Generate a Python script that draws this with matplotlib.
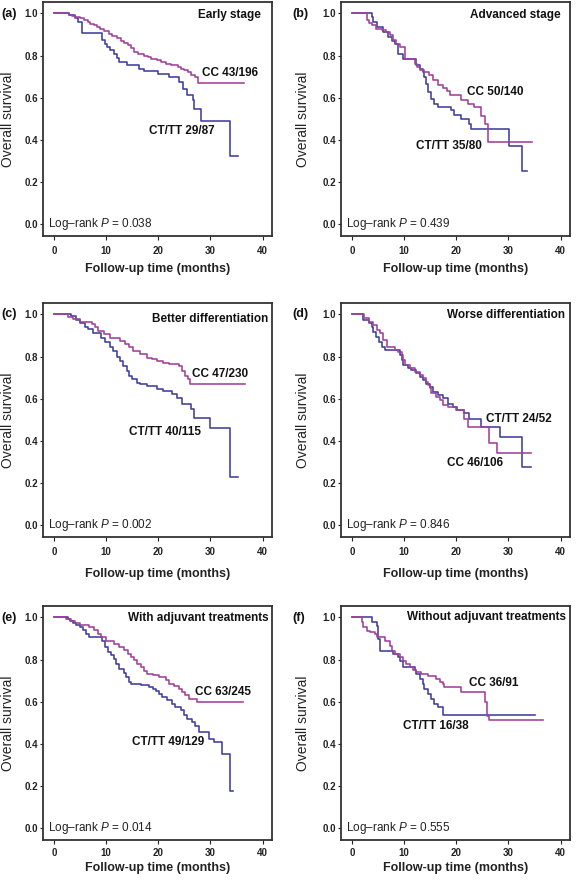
import matplotlib
matplotlib.use("Agg")
import matplotlib.pyplot as plt

plt.rcParams['font.family'] = ['Liberation Sans', 'DejaVu Sans']
plt.rcParams['mathtext.fontset'] = 'custom'
plt.rcParams['mathtext.rm'] = 'Liberation Sans'
plt.rcParams['mathtext.it'] = 'Liberation Sans:italic'

CC_COLOR = '#a0409a'
CT_COLOR = '#3d3d9c'

# (a) Early stage
a_cc_t = [0, 2.8, 3.5, 4.1, 5.0, 5.7, 6.5, 7.0, 7.6, 8.2, 8.9, 9.6, 10.5, 11.2, 12.1, 12.8, 13.4, 14.1,
          14.8, 15.3, 16.2, 17.3, 18.0, 18.6, 19.8, 20.6, 21.4, 22.4, 23.7, 24.4, 25.0, 25.7, 26.3, 27.0, 27.6]
a_cc_s = [1.0, 0.993, 0.987, 0.982, 0.976, 0.968, 0.960, 0.952, 0.944, 0.936, 0.928, 0.915, 0.904, 0.893,
          0.881, 0.870, 0.860, 0.849, 0.835, 0.817, 0.809, 0.800, 0.792, 0.785, 0.777, 0.770, 0.762, 0.754,
          0.746, 0.738, 0.730, 0.722, 0.710, 0.698, 0.670]
a_cc_end = 36.5
a_ct_t = [0, 2.8, 4.1, 4.7, 5.35, 9.2, 9.7, 10.2, 10.8, 11.5, 12.0, 12.4, 14.0, 16.3, 17.3, 19.9, 22.1,
          24.0, 24.7, 25.6, 26.6, 26.9, 28.2, 33.7]
a_ct_s = [1.0, 0.99, 0.98, 0.96, 0.905, 0.873, 0.857, 0.841, 0.825, 0.809, 0.79, 0.77, 0.754, 0.738,
          0.725, 0.714, 0.698, 0.674, 0.643, 0.611, 0.587, 0.547, 0.49, 0.325]
a_ct_end = 35.2

# (b) Advanced stage
b_cc_t = [0, 2.85, 3.2, 3.8, 4.6, 5.7, 6.6, 7.3, 7.9, 8.5, 9.2, 10.1, 12.0, 12.4, 13.0, 13.9, 14.8, 15.5,
          16.4, 17.4, 18.2, 18.7, 20.9, 22.2, 23.4, 24.7, 25.6, 26.0]
b_cc_s = [1.0, 0.968, 0.955, 0.944, 0.928, 0.92, 0.912, 0.897, 0.873, 0.855, 0.841, 0.785, 0.762, 0.746,
          0.73, 0.72, 0.71, 0.686, 0.662, 0.646, 0.63, 0.614, 0.587, 0.57, 0.555, 0.515, 0.476, 0.389]
b_cc_end = 34.5
b_ct_t = [0, 3.8, 4.1, 4.75, 6.0, 7.0, 7.6, 8.2, 8.9, 9.8, 12.3, 13.0, 13.6, 13.9, 14.2, 14.6, 15.2,
          15.8, 16.5, 19.0, 19.6, 20.9, 22.4, 22.8, 30.1, 32.6]
b_ct_s = [1.0, 0.984, 0.96, 0.936, 0.912, 0.889, 0.87, 0.857, 0.809, 0.785, 0.754, 0.738, 0.72, 0.698,
          0.667, 0.627, 0.595, 0.571, 0.555, 0.54, 0.516, 0.5, 0.476, 0.452, 0.373, 0.254]
b_ct_end = 33.5

# (c) Better differentiation
c_cc_t = [0, 2.7, 3.7, 5.0, 7.2, 7.85, 8.5, 9.5, 10.75, 12.7, 13.6, 14.3, 15.2, 16.5, 17.8, 18.8, 19.7,
          21.0, 22.0, 23.9, 24.6, 25.2, 25.7, 26.05]
c_cc_s = [1.0, 0.988, 0.977, 0.966, 0.954, 0.938, 0.922, 0.906, 0.89, 0.875, 0.859, 0.843, 0.827, 0.811,
          0.795, 0.787, 0.779, 0.771, 0.765, 0.756, 0.732, 0.708, 0.692, 0.672]
c_cc_end = 36.6
c_ct_t = [0, 3.35, 4.3, 5.0, 5.9, 6.6, 7.5, 9.1, 9.8, 10.75, 11.4, 12.0, 12.7, 13.3, 14.0, 14.3, 14.9,
          15.9, 16.5, 17.8, 19.7, 21.0, 22.6, 23.6, 24.6, 26.2, 26.8, 30.0, 33.8]
c_ct_s = [1.0, 0.99, 0.975, 0.96, 0.94, 0.93, 0.914, 0.89, 0.867, 0.843, 0.827, 0.8, 0.779, 0.756,
          0.732, 0.708, 0.692, 0.676, 0.668, 0.66, 0.644, 0.636, 0.62, 0.605, 0.573, 0.549, 0.509, 0.46, 0.23]
c_ct_end = 35.2

# (d) Worse differentiation
d_cc_t = [0, 2.3, 3.2, 4.1, 4.75, 5.4, 6.0, 6.65, 8.2, 8.9, 9.5, 9.8, 10.1, 11.1, 12.0, 13.0, 13.6,
          14.2, 14.6, 14.9, 15.2, 16.1, 16.8, 17.4, 18.4, 19.9, 21.5, 22.2, 26.3, 27.8]
d_cc_s = [1.0, 0.981, 0.965, 0.949, 0.926, 0.91, 0.878, 0.846, 0.83, 0.823, 0.807, 0.783, 0.76, 0.744,
          0.728, 0.712, 0.696, 0.68, 0.665, 0.649, 0.625, 0.609, 0.593, 0.57, 0.562, 0.546, 0.506, 0.467,
          0.388, 0.343]
d_cc_end = 34.4
d_ct_t = [0, 2.2, 3.2, 3.8, 4.1, 4.6, 5.1, 5.7, 6.3, 9.2, 9.5, 9.8, 10.8, 11.4, 12.3, 13.0, 13.6, 14.2,
          14.9, 15.5, 16.5, 17.4, 18.4, 19.3, 20.2, 21.5, 22.4, 24.7, 28.4, 32.6]
d_ct_s = [1.0, 0.973, 0.957, 0.941, 0.918, 0.894, 0.87, 0.845, 0.83, 0.807, 0.783, 0.76, 0.744, 0.736,
          0.72, 0.704, 0.688, 0.672, 0.657, 0.633, 0.617, 0.601, 0.577, 0.562, 0.546, 0.53, 0.506, 0.467,
          0.419, 0.277]
d_ct_end = 34.4

# (e) With adjuvant treatments
e_cc_t = [0, 2.35, 3.3, 3.94, 4.9, 6.8, 7.75, 8.4, 9.0, 10.0, 11.6, 12.5, 13.5, 14.1, 14.7, 15.4, 16.0,
          16.65, 17.3, 17.9, 18.9, 20.1, 21.4, 22.0, 23.0, 23.9, 24.6, 25.2, 25.85, 27.4]
e_cc_s = [1.0, 0.992, 0.984, 0.975, 0.965, 0.953, 0.938, 0.922, 0.907, 0.89, 0.875, 0.859, 0.843, 0.828,
          0.812, 0.796, 0.78, 0.764, 0.748, 0.733, 0.728, 0.717, 0.701, 0.685, 0.674, 0.661, 0.646, 0.63,
          0.614, 0.598]
e_cc_end = 36.3
e_ct_t = [0, 2.7, 3.0, 3.6, 4.3, 4.9, 5.5, 6.2, 6.8, 9.3, 9.85, 10.3, 10.9, 11.6, 11.9, 12.5, 13.5, 13.8,
          14.4, 14.7, 16.6, 18.2, 18.9, 19.5, 20.1, 20.8, 21.7, 22.7, 23.3, 24.3, 24.9, 25.5, 26.5, 27.1,
          27.8, 29.7, 30.6, 32.2, 33.8]
e_ct_s = [1.0, 0.994, 0.985, 0.975, 0.965, 0.953, 0.938, 0.922, 0.907, 0.89, 0.859, 0.835, 0.82, 0.804,
          0.78, 0.756, 0.737, 0.717, 0.693, 0.685, 0.677, 0.669, 0.661, 0.649, 0.638, 0.622, 0.606, 0.59,
          0.574, 0.559, 0.535, 0.519, 0.503, 0.487, 0.456, 0.424, 0.408, 0.353, 0.176]
e_ct_end = 34.4

# (f) Without adjuvant treatments
f_cc_t = [0, 1.9, 2.2, 2.85, 3.5, 4.4, 4.75, 6.33, 7.28, 7.6, 8.2, 9.2, 9.8, 10.4, 11.1, 11.7, 12.3,
          13.3, 14.6, 16.1, 16.8, 17.4, 17.7, 20.9, 25.6, 25.9, 26.25]
f_cc_s = [1.0, 0.976, 0.953, 0.937, 0.929, 0.921, 0.905, 0.889, 0.866, 0.842, 0.826, 0.81, 0.795, 0.779,
          0.763, 0.75, 0.739, 0.731, 0.724, 0.708, 0.695, 0.684, 0.671, 0.645, 0.6, 0.53, 0.513]
f_cc_end = 36.6
f_ct_t = [0, 3.8, 4.75, 5.06, 5.38, 7.9, 8.9, 9.2, 9.8, 12.0, 12.3, 13.0, 13.6, 13.9, 14.6, 15.2, 15.8,
          16.45, 17.4]
f_ct_s = [1.0, 0.976, 0.96, 0.897, 0.842, 0.826, 0.814, 0.795, 0.763, 0.75, 0.731, 0.708, 0.684, 0.66,
          0.636, 0.613, 0.589, 0.573, 0.537]
f_ct_end = 35.1

panel_tags = ['(a)', '(b)', '(c)', '(d)', '(e)', '(f)']
titles = ['Early stage', 'Advanced stage', 'Better differentiation', 'Worse differentiation',
          'With adjuvant treatments', 'Without adjuvant treatments']
cc_labels = ['CC 43/196', 'CC 50/140', 'CC 47/230', 'CC 46/106', 'CC 63/245', 'CC 36/91']
ct_labels = ['CT/TT 29/87', 'CT/TT 35/80', 'CT/TT 40/115', 'CT/TT 24/52', 'CT/TT 49/129', 'CT/TT 16/38']
p_values = ['0.038', '0.439', '0.002', '0.846', '0.014', '0.555']

curves = [
    (a_cc_t, a_cc_s, a_cc_end, a_ct_t, a_ct_s, a_ct_end),
    (b_cc_t, b_cc_s, b_cc_end, b_ct_t, b_ct_s, b_ct_end),
    (c_cc_t, c_cc_s, c_cc_end, c_ct_t, c_ct_s, c_ct_end),
    (d_cc_t, d_cc_s, d_cc_end, d_ct_t, d_ct_s, d_ct_end),
    (e_cc_t, e_cc_s, e_cc_end, e_ct_t, e_ct_s, e_ct_end),
    (f_cc_t, f_cc_s, f_cc_end, f_ct_t, f_ct_s, f_ct_end),
]

# layout: title right edge, CC label, CT/TT label anchors (data coords)
title_pos = [(39.6, 0.99), (40.0, 0.99), (41.0, 0.98), (40.8, 0.995), (41.1, 0.995), (41.1, 1.0)]
cc_pos = [(28.4, 0.717), (22.1, 0.627), (26.5, 0.717), (18.2, 0.297), (27.1, 0.648), (22.5, 0.69)]
ct_pos = [(18.2, 0.44), (12.3, 0.37), (14.4, 0.441), (25.7, 0.503), (14.9, 0.41), (9.8, 0.485)]

W, H = 576, 881
fig = plt.figure(figsize=(W / 100, H / 100), dpi=100)

col_left = [43, 341]
row_top = [2, 303, 606]
ax_w, ax_h = 229, 234
xlabel_gap = [33, 37, 28]      # px from frame bottom to x-label centre
xtick_pad = [4.5, 4.5, 3.0]
ylabel_x = [8, 303]            # px, centre of the y-label


def km(ax, t, s, end, color):
    ax.step(list(t) + [end], list(s) + [s[-1]], where='post', color=color, lw=1.15)


for i in range(6):
    r, c = divmod(i, 2)
    x0, y0 = col_left[c], row_top[r]
    ax = fig.add_axes([x0 / W, 1 - (y0 + ax_h) / H, ax_w / W, ax_h / H])
    cc_t, cc_s, cc_end, ct_t, ct_s, ct_end = curves[i]
    km(ax, ct_t, ct_s, ct_end, CT_COLOR)
    km(ax, cc_t, cc_s, cc_end, CC_COLOR)

    ax.set_xlim(-2.1, 41.8)
    ax.set_ylim(-0.056, 1.054)
    ax.set_xticks([0, 10, 20, 30, 40])
    ax.set_yticks([0.0, 0.2, 0.4, 0.6, 0.8, 1.0])
    ax.set_yticklabels(['0.0', '0.2', '0.4', '0.6', '0.8', '1.0'])
    ax.tick_params(axis='x', length=3, width=0.8, pad=xtick_pad[r], labelsize=7, colors='#222222')
    ax.tick_params(axis='y', length=2, width=0.8, pad=1.5, labelsize=7, colors='#222222')
    for lab in ax.get_xticklabels() + ax.get_yticklabels():
        lab.set_fontweight('bold')
    for sp in ax.spines.values():
        sp.set_linewidth(1.3)
        sp.set_color('#333333')

    ax.set_ylabel('Overall survival', fontsize=10, color='#222222')
    ax.yaxis.set_label_coords(-(x0 - ylabel_x[c]) / ax_w, 0.5)
    ax.set_xlabel('Follow-up time (months)', fontsize=9, fontweight='bold', color='#222222')
    ax.xaxis.set_label_coords(0.5, -xlabel_gap[r] / ax_h)
    ax.yaxis.label.set_va('center')
    ax.xaxis.label.set_va('center')

    tx, ty = title_pos[i]
    ax.text(tx, ty, titles[i], ha='right', va='center', fontsize=8.5, fontweight='bold', color='#111111')
    ax.text(*cc_pos[i], cc_labels[i], ha='left', va='center', fontsize=8.5, fontweight='bold', color='#111111')
    ax.text(*ct_pos[i], ct_labels[i], ha='left', va='center', fontsize=8.5, fontweight='bold', color='#111111')
    ax.text(0.022, 0.0, r'Log–rank $\mathit{P}$ = ' + p_values[i], transform=ax.get_yaxis_transform(),
            ha='left', va='center', fontsize=8.5, color='#222222')

    tag_x = 1 if c == 0 else 292
    tag_y = y0 + 11.5
    fig.text(tag_x / W, 1 - tag_y / H, panel_tags[i], ha='left', va='center', fontsize=9,
             fontweight='bold', color='#111111')

fig.savefig('out.png', dpi=100)
